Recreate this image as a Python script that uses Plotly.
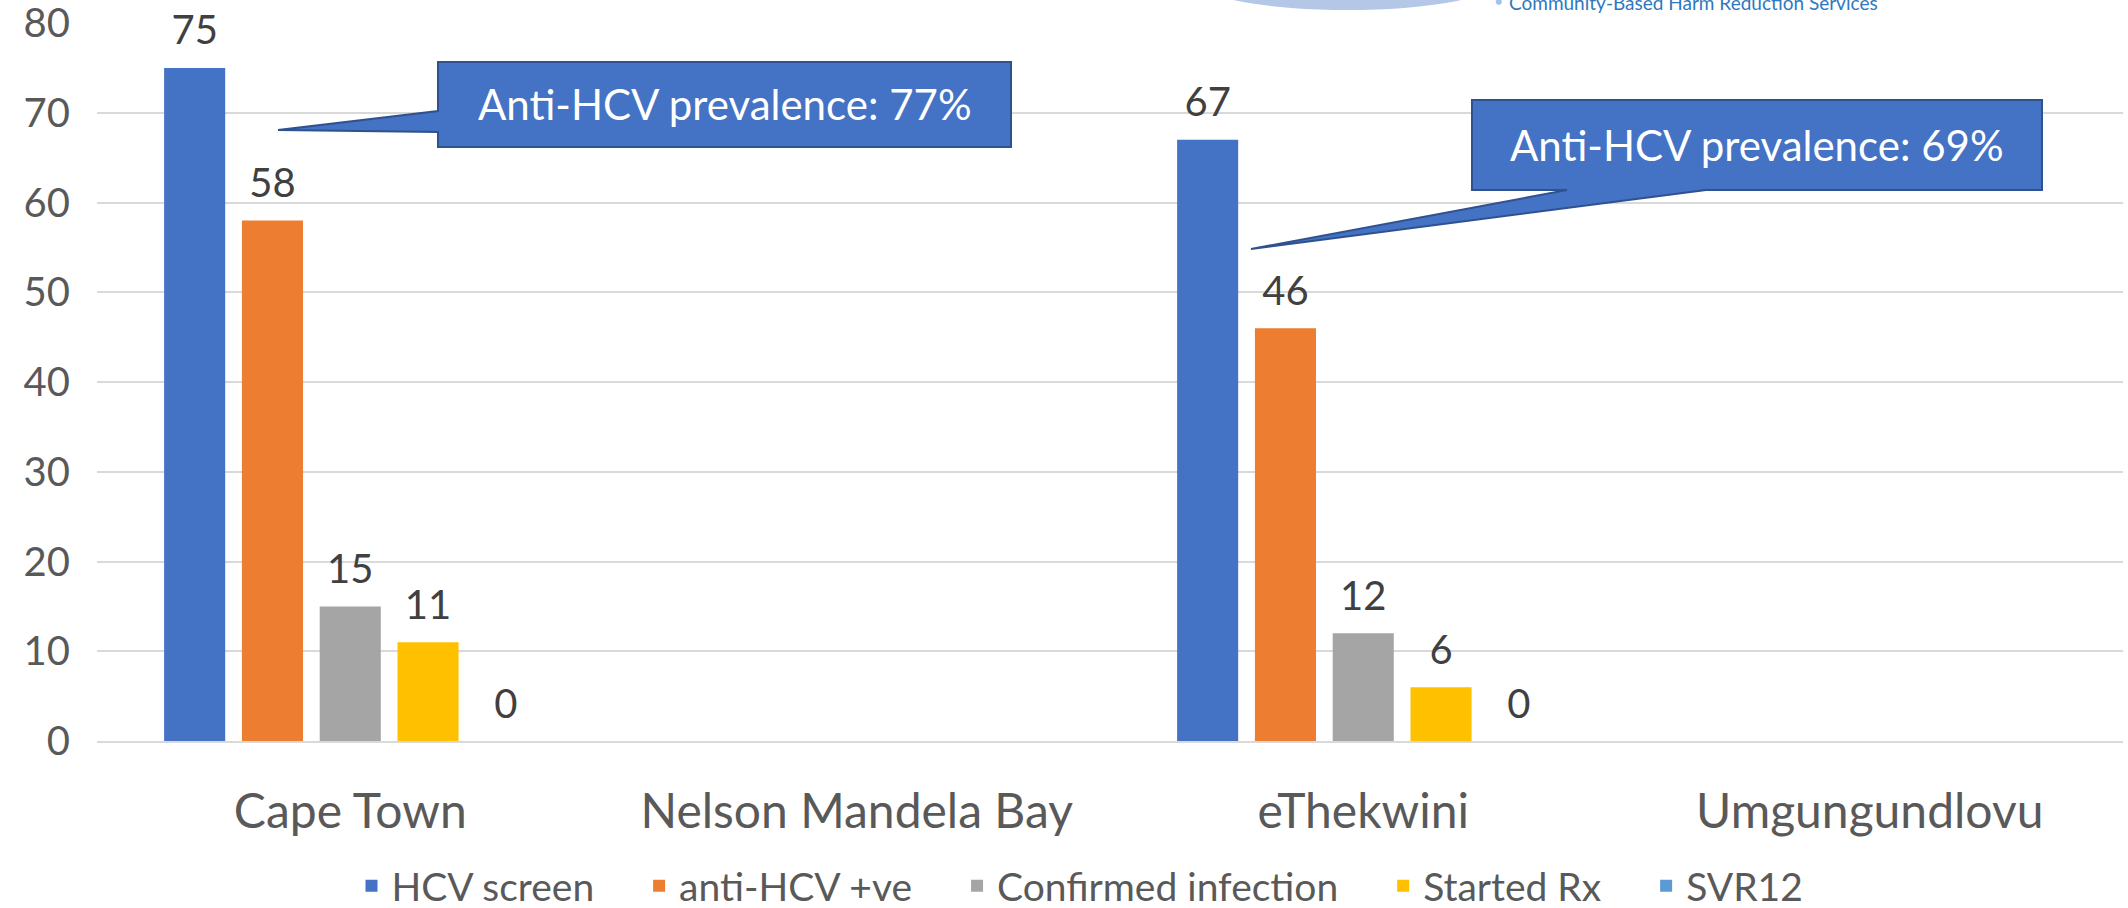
import plotly.graph_objects as go

categories = ["Cape Town", "Nelson Mandela Bay", "eThekwini", "Umgungundlovu"]
series_names = ["HCV screen", "anti-HCV +ve", "Confirmed infection", "Started Rx", "SVR12"]
hcv_screen = [75, None, 67, None]
anti_hcv_pos = [58, None, 46, None]
confirmed = [15, None, 12, None]
started_rx = [11, None, 6, None]
svr12 = [0, None, 0, None]
colors = ["#4472C4", "#ED7D31", "#A5A5A5", "#FFC000", "#5B9BD5"]
callout_texts = ["Anti-HCV prevalence: 77%", "Anti-HCV prevalence: 69%"]
y_ticks = [0, 10, 20, 30, 40, 50, 60, 70, 80]

W, H = 2128, 908
ML, MR, MT, MB = 97, 5, 23, 167
PW, PH = W - ML - MR, H - MT - MB

def px(x):
    return (x - ML) / PW

def py(y):
    return (H - MB - y) / PH

def path(points):
    return "M " + " L ".join(f"{px(x):.5f},{py(y):.5f}" for x, y in points) + " Z"

FONT = "Lato"
GAP = 0.232
NB = "\u00a0" * 4
fig = go.Figure()
all_series = [hcv_screen, anti_hcv_pos, confirmed, started_rx, svr12]
for i, (name, vals, col) in enumerate(zip(series_names, all_series, colors)):
    fig.add_trace(go.Bar(
        name=name + (NB if i < len(series_names) - 1 else ""), x=categories, y=vals,
        marker_color=col, marker_line=dict(width=0),
    ))
# data labels, grouped the same way as the bars
for name, vals in zip(series_names, all_series):
    fig.add_trace(go.Scatter(
        name=name + " label", x=categories, y=vals, mode="markers+text",
        marker=dict(size=20, opacity=0), text=[("" if v is None else str(v)) for v in vals],
        textposition="top center", cliponaxis=False, showlegend=False, hoverinfo="skip",
        textfont=dict(family=FONT, size=40, color="#404040"),
    ))

shapes = [
    dict(type="path", xref="paper", yref="paper",
         path=path([(438, 62), (1011, 62), (1011, 147), (438, 147), (438, 132), (278, 130), (438, 111)]),
         fillcolor="#4472C4", line=dict(color="#2F528F", width=2), layer="above"),
    dict(type="path", xref="paper", yref="paper",
         path=path([(1472, 100), (2042, 100), (2042, 190), (1706, 190), (1251, 249), (1567, 190), (1472, 190)]),
         fillcolor="#4472C4", line=dict(color="#2F528F", width=2), layer="above"),
    dict(type="circle", xref="paper", yref="paper",
         x0=px(1200), x1=px(1495), y0=py(10), y1=py(-45),
         fillcolor="#B4C7E7", line=dict(width=0), layer="below"),
]

annotations = [
    dict(text=callout_texts[0], xref="paper", yref="paper", x=px(724.5), y=py(104.5),
         xanchor="center", yanchor="middle", showarrow=False,
         font=dict(family=FONT, size=42, color="white")),
    dict(text=callout_texts[1], xref="paper", yref="paper", x=px(1757), y=py(145),
         xanchor="center", yanchor="middle", showarrow=False,
         font=dict(family=FONT, size=42, color="white")),
    dict(text="Community-Based Harm Reduction Services", xref="paper", yref="paper",
         x=px(1507), y=py(2), xanchor="left", yanchor="middle", showarrow=False,
         font=dict(family=FONT, size=19, color="#2E78C0")),
    dict(text="•", xref="paper", yref="paper",
         x=px(1492), y=py(0), xanchor="left", yanchor="middle", showarrow=False,
         font=dict(family=FONT, size=16, color="#9DC3E6")),
]

fig.update_layout(
    width=W, height=H,
    margin=dict(l=ML, r=MR, t=MT, b=MB, pad=0, autoexpand=False),
    paper_bgcolor="white", plot_bgcolor="white",
    barmode="group", bargap=GAP, bargroupgap=0.215,
    scattermode="group", scattergap=GAP,
    font=dict(family=FONT, color="#595959"),
    shapes=shapes, annotations=annotations,
    legend=dict(orientation="h", x=px(1080), xanchor="center", y=py(886), yanchor="middle",
                font=dict(family=FONT, size=39, color="#595959"), traceorder="normal"),
    showlegend=True,
)
fig.update_yaxes(range=[0, 80], tickvals=y_ticks, showgrid=True, gridcolor="#D9D9D9", gridwidth=2,
                 zeroline=False, showline=False, ticks="", ticklabelstandoff=26,
                 ticklabeloverflow="allow",
                 tickfont=dict(family=FONT, size=40, color="#595959"))
fig.update_xaxes(range=[-0.5, 3.5], showgrid=False, showline=True, linecolor="#D9D9D9", linewidth=2,
                 ticks="", ticklabelstandoff=27,
                 tickfont=dict(family=FONT, size=48, color="#595959"))

fig.write_html("out.html", config={"displayModeBar": False},
               post_script="document.body.style.margin='0';")
